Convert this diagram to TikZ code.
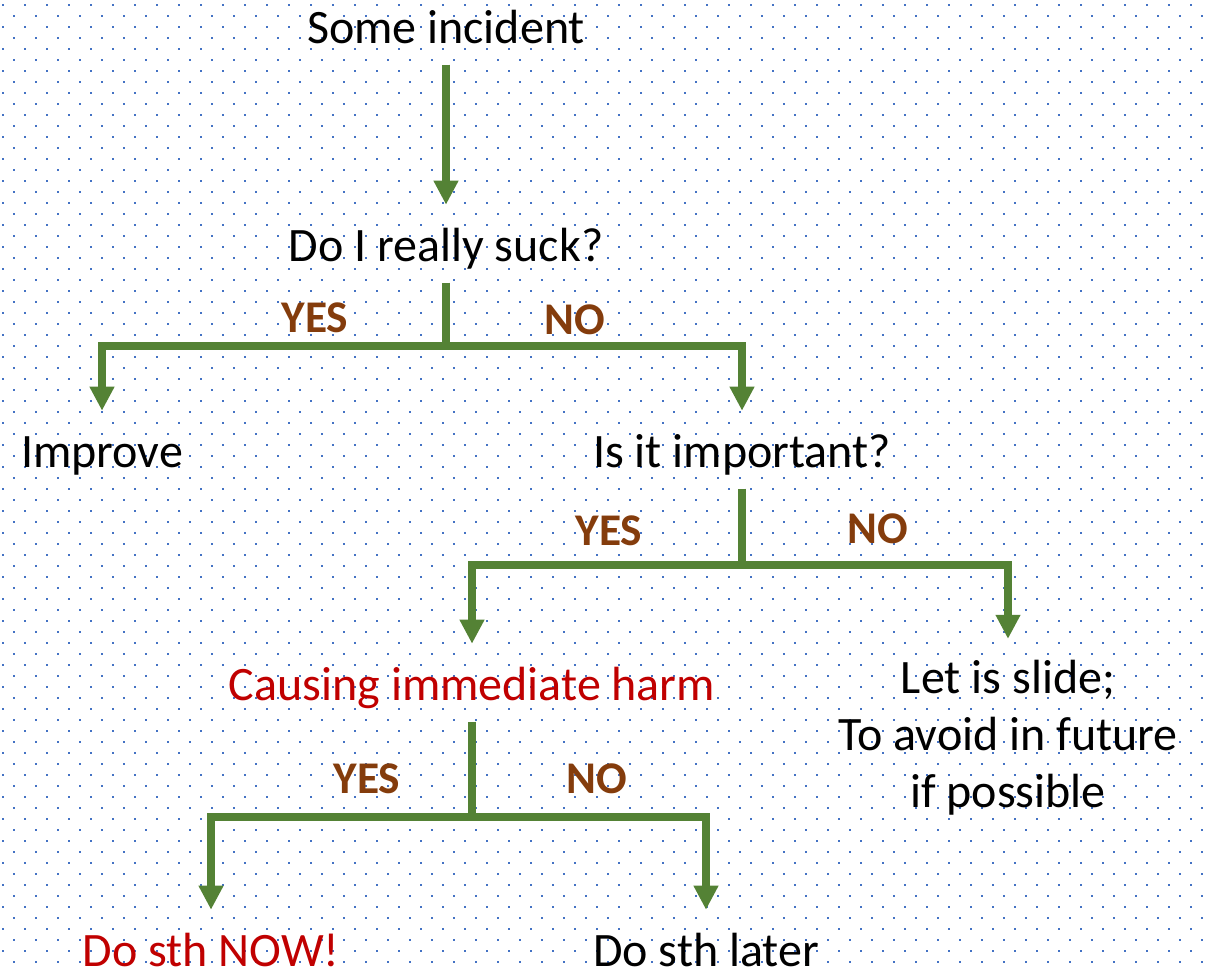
\documentclass[tikz,border=0pt]{standalone}
\usepackage{fontspec}
\setmainfont{Carlito}
\usetikzlibrary{arrows.meta,positioning}

\definecolor{arrowgreen}{HTML}{548235}
\definecolor{answerbrown}{HTML}{843C0C}
\definecolor{alertred}{HTML}{C00000}
\definecolor{dotblue}{HTML}{4472C4}

\begin{document}
\begin{tikzpicture}[
  x=0.75pt, y=-0.75pt,
  txt/.style={
    inner sep=0pt, anchor=base, text height=26pt, text depth=9pt,
    font=\fontsize{36}{43}\selectfont
  },
  multi/.style={
    inner sep=0pt, align=center,
    font=\fontsize{36}{42.75}\selectfont
  },
  answer/.style={
    inner sep=0pt, anchor=base, text=answerbrown,
    font=\bfseries\fontsize{34}{40}\selectfont
  },
  urgent/.style={text=alertred},
  stem/.style={line width=5.6pt, draw=arrowgreen, shorten <=7pt},
  flow/.style={
    -{Triangle[width=17.5pt,length=18pt]}, line width=5.6pt,
    draw=arrowgreen, shorten >=16pt
  }
]

\useasboundingbox (0,0) rectangle (1206,971);

% dotted paper
\foreach \r in {0,...,87} {
  \pgfmathsetmacro\dy{5+11*\r}
  \pgfmathsetmacro\dx{3+11*mod(\r,2)}
  \foreach \c in {0,...,54}
    \fill[dotblue] (\dx+22*\c-1.2,\dy-1.2) rectangle ++(2.4,2.4);
}

% questions and outcomes
\node[txt] (inc) at (446,43) {Some incident};
\node[txt] (suck) at (446,261) {Do I really suck?};
\node[txt] (improve) at (102,467) {Improve};
\node[txt] (important) at (742,467) {Is it important?};
\node[txt, urgent] (harm) at (472,700) {Causing immediate harm};
\node[multi] (slide) at (1008,738) {Let is slide;\\To avoid in future\\if possible};
\node[txt, urgent] (now) at (211,966) {Do sth NOW!};
\node[txt] (later) at (706,966) {Do sth later};

% branch points
\coordinate (j1) at (446,346);
\coordinate (j2) at (742,565);
\coordinate (j3) at (472,817);

\draw[stem, flow] (inc) -- (suck);

\draw[stem] (suck) -- (j1);
\draw[flow] (j1) -| (improve);
\draw[flow] (j1) -| (important);
\node[answer] (yes1) at (315,332) {YES};
\node[answer] (no1) at (575,334) {NO};

\draw[stem] (important) -- (j2);
\draw[flow] (j2) -| (harm);
\draw[flow] (j2) -| (slide);
\node[answer] (yes2) at (609,545) {YES};
\node[answer] (no2) at (878,543) {NO};

\draw[stem] (harm) -- (j3);
\draw[flow] (j3) -| (now);
\draw[flow] (j3) -| (later);
\node[answer] (yes3) at (367,793) {YES};
\node[answer] (no3) at (597,793) {NO};

\end{tikzpicture}
\end{document}
